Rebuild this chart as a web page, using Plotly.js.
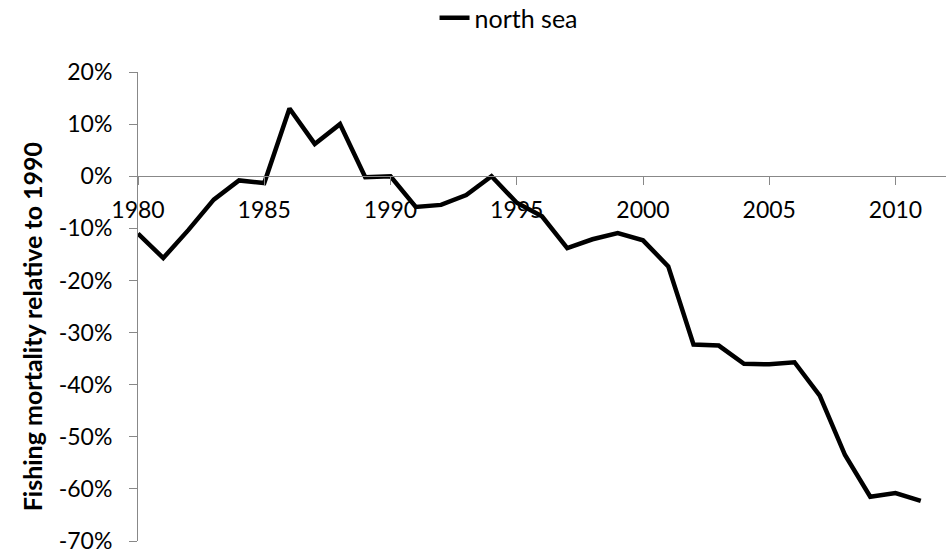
<!DOCTYPE html>
<html>
<head>
<meta charset="utf-8">
<script src="https://cdn.plot.ly/plotly-3.0.1.min.js"></script>
<style>html,body{margin:0;padding:0;background:#fff;}#chart{width:948px;height:555px;}</style>
</head>
<body>
<div id="chart"></div>
<script>
const seriesName = "north sea";
const years = [1980,1981,1982,1983,1984,1985,1986,1987,1988,1989,1990,1991,1992,1993,1994,1995,1996,1997,1998,1999,2000,2001,2002,2003,2004,2005,2006,2007,2008,2009,2010,2011];
const northSea = [-0.110,-0.157,-0.103,-0.045,-0.008,-0.013,0.130,0.062,0.100,-0.002,0.000,-0.059,-0.055,-0.036,0.000,-0.051,-0.077,-0.138,-0.121,-0.109,-0.123,-0.173,-0.323,-0.325,-0.360,-0.361,-0.357,-0.421,-0.535,-0.615,-0.608,-0.623];
const xTickVals = [1980,1985,1990,1995,2000,2005,2010];
const xTickText = ["1980","1985","1990","1995","2000","2005","2010"];
const yTickVals = [0.2,0.1,0,-0.1,-0.2,-0.3,-0.4,-0.5,-0.6,-0.7];
const yTickText = ["20%","10%","0%","-10%","-20%","-30%","-40%","-50%","-60%","-70%"];
const yTitle = "Fishing mortality relative to 1990";

const font = "Lato, 'Open Sans', Arial, sans-serif";
const axisGray = "#888888";

const data = [{
  x: years, y: northSea, name: seriesName, type: "scatter", mode: "lines",
  line: {color: "#000000", width: 4.5}
}];

const layout = {
  width: 948, height: 555,
  margin: {l: 138, r: 2, t: 72, b: 14, autoexpand: false},
  paper_bgcolor: "#ffffff", plot_bgcolor: "#ffffff",
  font: {family: font, color: "#000000", size: 23},
  showlegend: true,
  legend: {orientation: "h", x: 0.367, xanchor: "left", y: 1.115, yanchor: "middle",
           font: {family: font, size: 25, color: "#000000"}, bgcolor: "rgba(0,0,0,0)"},
  xaxis: {
    range: [1980, 2012], anchor: "free", position: 0.7778,
    showgrid: false, zeroline: false, showline: true, linecolor: axisGray, linewidth: 1,
    ticks: "outside", ticklen: 8, tickcolor: axisGray, tickwidth: 1,
    tickvals: xTickVals, ticktext: xTickText, ticklabelstandoff: 5,
    tickfont: {family: font, size: 23, color: "#000000"}
  },
  yaxis: {
    range: [-0.7, 0.2], tickvals: yTickVals, ticktext: yTickText,
    showgrid: false, zeroline: false, showline: true, linecolor: axisGray, linewidth: 1,
    ticks: "outside", ticklen: 8, tickcolor: axisGray, tickwidth: 1, ticklabelstandoff: 12,
    tickfont: {family: font, size: 23, color: "#000000"}
  },
  annotations: [{
    text: "<b>" + yTitle + "</b>", textangle: -90, showarrow: false,
    xref: "paper", yref: "paper", x: -0.131, y: 0.456, xanchor: "center", yanchor: "middle",
    font: {family: font, size: 25, color: "#000000"}
  }]
};

Plotly.newPlot("chart", data, layout, {displayModeBar: false, staticPlot: true});
</script>
</body>
</html>
